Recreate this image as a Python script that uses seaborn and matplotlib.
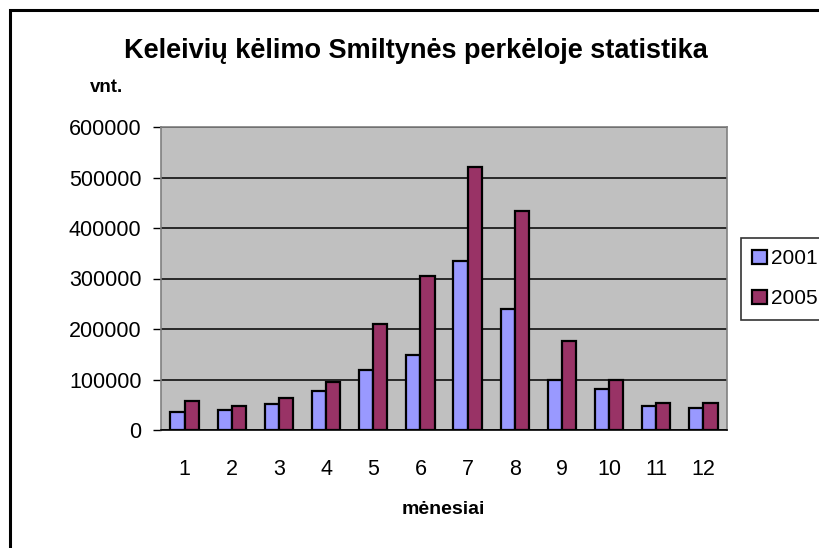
import pandas as pd
import matplotlib.pyplot as plt
import numpy as np
import seaborn as sns
from matplotlib.patches import Rectangle

# Monthly passenger counts
months = ["1", "2", "3", "4", "5", "6", "7", "8", "9", "10", "11", "12"]
years = ["2001", "2005"]
values_2001 = [35000, 40000, 51000, 77000, 119000, 149000, 335000, 240000, 100000, 82000, 47000, 44000]
values_2005 = [58000, 47000, 63000, 96000, 210000, 305000, 520000, 434000, 176000, 100000, 54000, 54000]
colors = ["#9999FF", "#993366"]

df = pd.DataFrame({
    "month": months * 2,
    "year": [years[0]] * len(months) + [years[1]] * len(months),
    "count": values_2001 + values_2005,
})

sns.set_style("white")
plt.rcParams["font.family"] = ["Liberation Sans", "DejaVu Sans"]
plt.rcParams["text.color"] = "black"
plt.rcParams["xtick.color"] = "black"
plt.rcParams["ytick.color"] = "black"

fig = plt.figure(figsize=(8.2, 5.48), dpi=100)
ax = fig.add_axes([161 / 820, 1 - 430 / 548, 566 / 820, 303 / 548])

sns.barplot(data=df, x="month", y="count", hue="year", order=months,
            hue_order=years, palette=dict(zip(years, colors)), width=0.6,
            saturation=1, edgecolor="black", linewidth=1.6, ax=ax, zorder=3)

# Plot area styling
ax.set_facecolor("#C0C0C0")
ax.set_ylim(0, 600000)
ax.set_yticks(np.arange(0, 600001, 100000))
ax.yaxis.grid(True, color="black", linewidth=1.1, zorder=1)
ax.set_axisbelow(True)
ax.set_xlim(-0.5, len(months) - 0.5)
ax.set_xticks(range(len(months)))
ax.set_xticks(np.arange(-0.5, len(months), 1), minor=True)
ax.tick_params(axis="x", which="major", length=0, pad=21, labelsize=15.5, labelcolor="black")
ax.tick_params(axis="x", which="minor", length=6, width=1, direction="out", color="black")
ax.tick_params(axis="y", length=6, width=1, direction="out", color="black", pad=8,
               labelsize=15.5, labelcolor="black", left=True)
for side in ["top", "right", "left"]:
    ax.spines[side].set_color("#808080")
    ax.spines[side].set_linewidth(1.2)
ax.spines["bottom"].set_color("black")
ax.spines["bottom"].set_linewidth(1.2)
ax.set_xlabel("")
ax.set_ylabel("")

# Legend on the right edge
handles, labels = ax.get_legend_handles_labels()
ax.legend_.remove()
leg = fig.legend(handles, labels, loc="upper left", bbox_to_anchor=(741 / 820, 1 - 238 / 548),
                 frameon=True, fancybox=False, edgecolor="black", fontsize=15,
                 handlelength=0.7, handleheight=0.7, handletextpad=0.2,
                 borderpad=0.55, labelspacing=1.0, borderaxespad=0)
leg.get_frame().set_linewidth(1.2)

# Titles
fig.text(416 / 820, 1 - 51 / 548, "Keleivių kėlimo Smiltynės perkėloje statistika",
         ha="center", va="center", fontsize=19.5, fontweight="bold")
fig.text(107 / 820, 1 - 88 / 548, "vnt.", ha="center", va="center", fontsize=13.5, fontweight="bold")
fig.text(443 / 820, 1 - 510 / 548, "mėnesiai", ha="center", va="center", fontsize=14, fontweight="bold")

# Outer chart border
fig.patches.append(Rectangle((10 / 820, -0.1), 2, 1 - 10 / 548 + 0.1, transform=fig.transFigure,
                             fill=False, edgecolor="black", linewidth=2.2, figure=fig))

fig.savefig("out.png", dpi=100)
plt.close()
